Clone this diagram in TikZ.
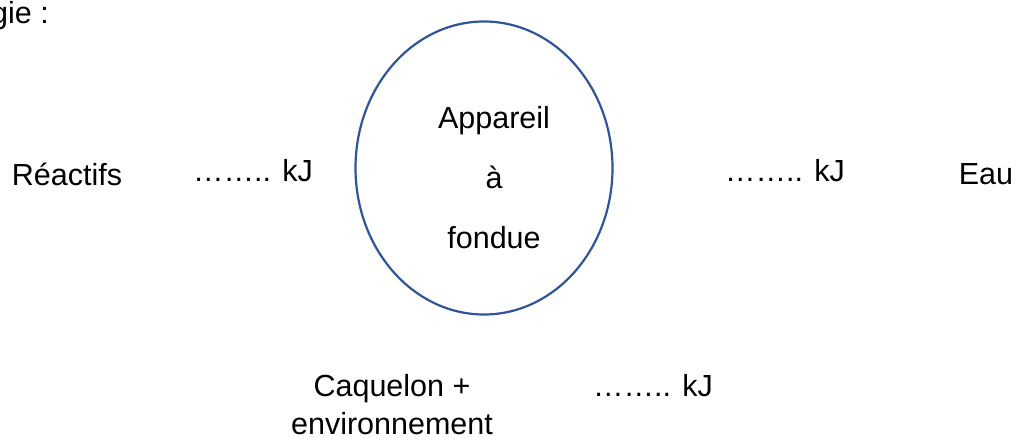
\documentclass[tikz,border=0pt]{standalone}
\usepackage{fontspec}
\setmainfont{Liberation Sans}
\usepackage{xcolor}
\usepackage{tikz}
\usetikzlibrary{shapes}
\usetikzlibrary{positioning}
\definecolor{appblue}{HTML}{2F5597}
\tikzstyle{lbl}= [inner sep=0pt, font=\fontsize{30.5}{36}\selectfont]

\begin{document}
\begin{tikzpicture}[
		x=1pt, y=-1pt,
    appareil/.style={
    ellipse,draw=appblue,line width=2.2pt,minimum width=257pt,minimum height=293pt,inner sep=0pt,
    }
	]
  \useasboundingbox (0,0) rectangle (1019,441);

  \node[lbl,anchor=base west] (titre) at (-9,24) {gie :};
  \node[appareil] (app) at (484,168) {};
  \node[lbl,align=center,font=\fontsize{30.5}{60}\selectfont] (apptxt) at (494,177.5) {Appareil\\à\\fondue};

  \node[lbl,anchor=base] (reac) at (67,185) {Réactifs};
  \node[lbl,anchor=base west] (qreac) at (193,181) {…….. kJ};
  \node[lbl,anchor=base west] (qeau) at (725,181) {…….. kJ};
  \node[lbl,anchor=base] (eau) at (986,184) {Eau};

  \node[lbl,align=center,font=\fontsize{30.5}{38}\selectfont] (caq) at (392,405) {Caquelon +\\environnement};
  \node[lbl,anchor=base west] (qcaq) at (593,396) {…….. kJ};
\end{tikzpicture}
\end{document}
